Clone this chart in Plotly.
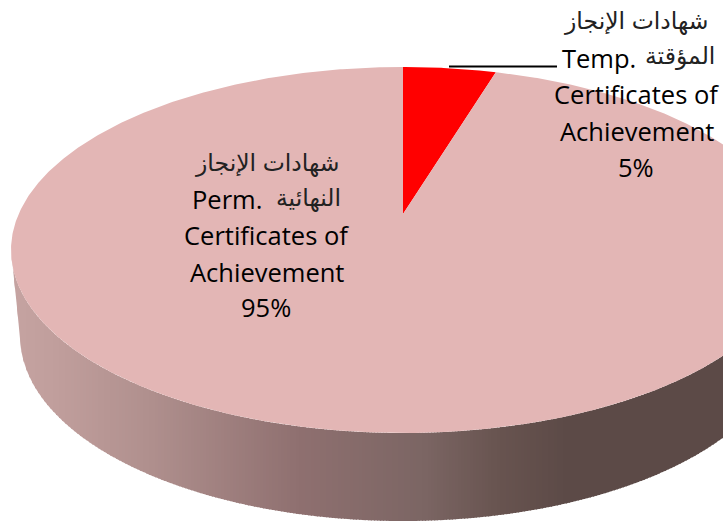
import numpy as np
import plotly.graph_objects as go

# --- data -------------------------------------------------------------
categories = ["Temp. Certificates of Achievement", "Perm. Certificates of Achievement"]
shares = [5, 95]
slice_colors = ["#ff0000", "#e3b6b5"]

# --- 3-D pie geometry (pixels of the 723x521 canvas) -------------------
W, H = 723, 521
CX, CY, RX, RY = 403.0, 250.0, 392.0, 183.0      # upper face ellipse
BCY, BRX, BRY = 336.0, 383.0, 185.0              # lower rim ellipse
APEX_Y = 214.0                                   # pie centre seen in perspective
FORESHORTEN = 2.015

side_x = [11, 60, 150, 300, 423, 500, 570, 723]
side_c = [(198, 164, 162), (192, 158, 156), (176, 144, 142), (143, 112, 112),
          (124, 102, 100), (104, 84, 80), (92, 74, 71), (92, 74, 71)]


def rim_point(angle):
    """Where the ray from the apex at pie angle `angle` meets the ellipse."""
    dx = FORESHORTEN * np.sin(angle)
    dy = -np.cos(angle)
    oy = APEX_Y - CY
    a = (dx / RX) ** 2 + (dy / RY) ** 2
    b = 2 * oy * dy / RY ** 2
    c = (oy / RY) ** 2 - 1
    t = (-b + np.sqrt(b * b - 4 * a * c)) / (2 * a)
    return CX + t * dx, APEX_Y + t * dy


fig = go.Figure()

# side wall: a left-to-right run of shaded strips
edges = np.arange(11, W + 3, 3.0)
for x0, x1 in zip(edges[:-1], edges[1:]):
    xs = np.linspace(x0, min(x1 + 1, W + 1), 4)
    top = CY + RY * np.sqrt(np.clip(1 - ((xs - CX) / RX) ** 2, 0, 1))
    low = BCY + BRY * np.sqrt(np.clip(1 - ((xs - CX) / BRX) ** 2, 0, 1))
    low = np.where(xs < CX - BRX, CY + (xs - 11) * (BCY - CY) / (CX - BRX - 11), low)
    mid = (x0 + x1) / 2
    rgb = [np.interp(mid, side_x, [c[i] for c in side_c]) for i in range(3)]
    fig.add_trace(go.Scatter(
        x=np.r_[xs, xs[::-1]], y=np.r_[top, low[::-1]], mode="lines", fill="toself",
        fillcolor="rgb(%d,%d,%d)" % tuple(rgb), line=dict(width=0),
        hoverinfo="skip", showlegend=False))

# upper face: one wedge per share
start = 0.0
for name, share, color in zip(categories, shares, slice_colors):
    end = start + 2 * np.pi * share / sum(shares)
    ang = np.linspace(start, end, max(int(share * 8), 24))
    pts = [rim_point(a) for a in ang]
    fig.add_trace(go.Scatter(
        x=[CX] + [p[0] for p in pts] + [CX],
        y=[APEX_Y] + [p[1] for p in pts] + [APEX_Y],
        mode="lines", fill="toself", fillcolor=color, line=dict(width=0),
        name=name, hoverinfo="name", showlegend=False))
    start = end

# leader line
fig.add_shape(type="line", x0=449, x1=557, y0=66.5, y1=66.5, line=dict(color="#000000", width=2))

ARABIC = "Liberation Sans, DejaVu Sans, sans-serif"
LATIN = "Open Sans, sans-serif"
AR_SIZE = 23.5
LA_SIZE = 25.5


def label(text, x, y, font, size, anchor="center", color="#000000"):
    fig.add_annotation(x=x, y=y, text=text, showarrow=False, xanchor=anchor, yanchor="middle",
                       font=dict(family=font, size=size, color=color))


# right label (5%)
label("شهادات الإنجاز", 636, 21, ARABIC, AR_SIZE, color="#222222")
label("المؤقتة", 717, 56, ARABIC, AR_SIZE, "right", color="#222222")
label("Temp.", 560, 58, LATIN, LA_SIZE, "left")
label("Certificates of", 636.5, 94, LATIN, LA_SIZE)
label("Achievement", 636.5, 131, LATIN, LA_SIZE)
label("5%", 636, 167, LATIN, LA_SIZE)

# left label (95%)
label("شهادات الإنجاز", 267, 163, ARABIC, AR_SIZE, color="#222222")
label("النهائية", 343, 198, ARABIC, AR_SIZE, "right", color="#222222")
label("Perm.", 190, 199, LATIN, LA_SIZE, "left")
label("Certificates of", 266.5, 235, LATIN, LA_SIZE)
label("Achievement", 266.5, 272, LATIN, LA_SIZE)
label("95%", 266, 307, LATIN, LA_SIZE)

fig.update_layout(
    width=W, height=H, margin=dict(l=0, r=0, t=0, b=0),
    paper_bgcolor="#ffffff", plot_bgcolor="#ffffff", showlegend=False,
    xaxis=dict(range=[0, W], visible=False, fixedrange=True),
    yaxis=dict(range=[H, 0], visible=False, fixedrange=True),
)
fig.write_html("out.html", config={"displayModeBar": False},
               post_script="document.body.style.margin='0';")
